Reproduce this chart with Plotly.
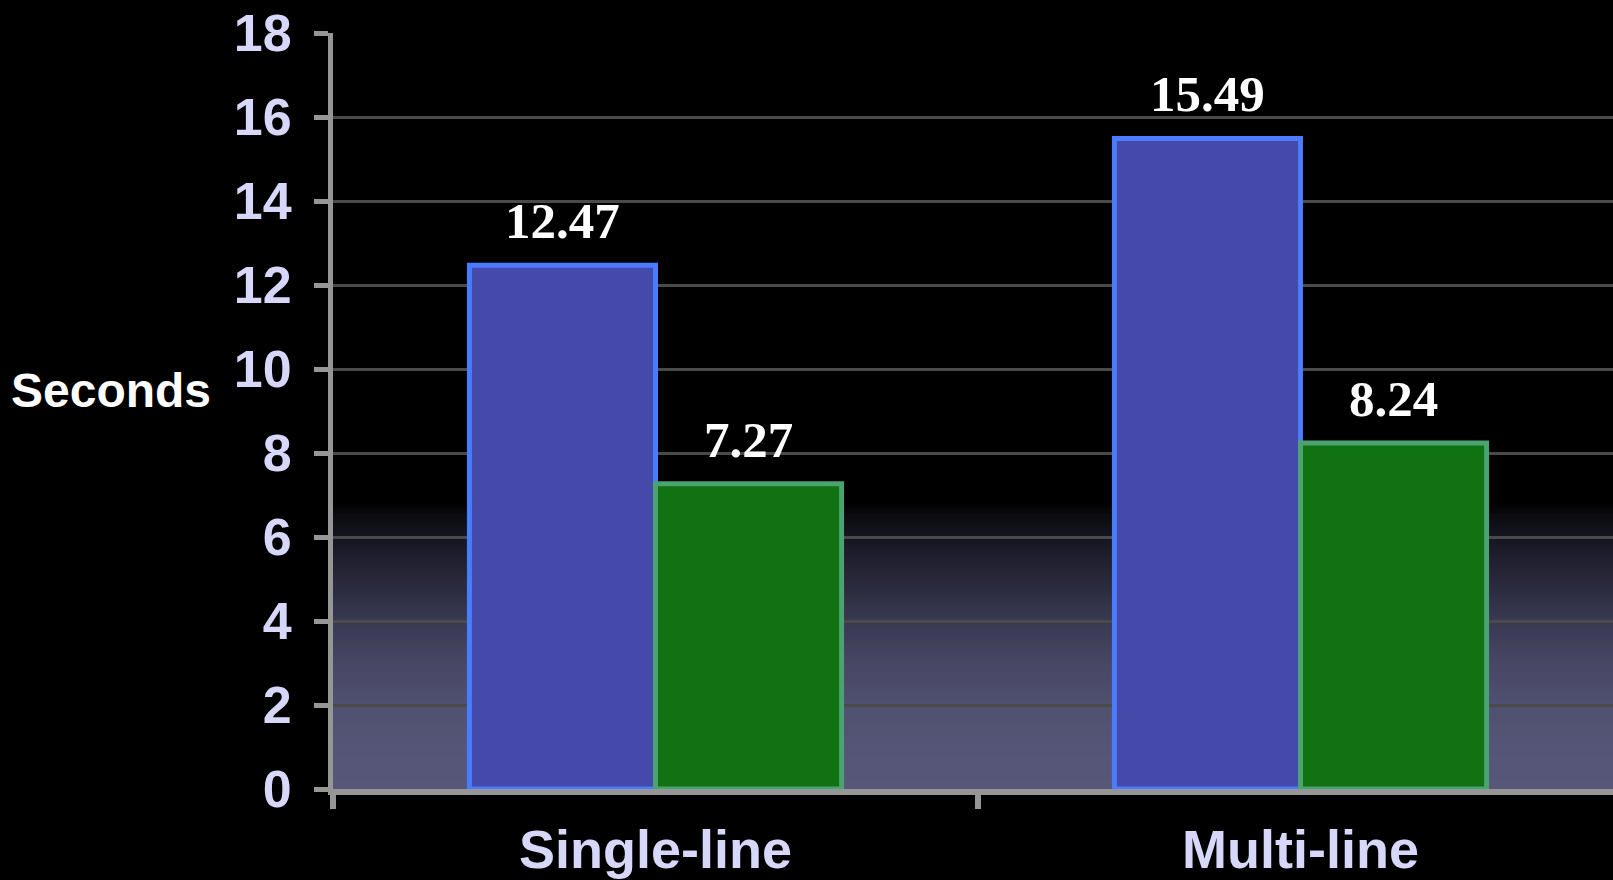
import plotly.graph_objects as go

categories = ["Single-line", "Multi-line"]
series_a = [12.47, 15.49]   # blue series
series_b = [7.27, 8.24]     # green series
y_ticks = [0, 2, 4, 6, 8, 10, 12, 14, 16, 18]

SANS = "Arial, 'Liberation Sans', Helvetica, sans-serif"
SERIF = "'Times New Roman', 'Liberation Serif', Times, serif"
LAV = "#D7D7FA"

fig = go.Figure()
fig.add_trace(go.Bar(
    x=categories, y=series_a, name="A",
    marker=dict(color="#4549AA", line=dict(color="#4A7CFF", width=5)),
))
fig.add_trace(go.Bar(
    x=categories, y=series_b, name="B",
    marker=dict(color="#107210", line=dict(color="#4AA370", width=5)),
))

# value labels above bars
bar_w = (1 - 0.423) / 2
for i, cat in enumerate(categories):
    for j, vals in enumerate([series_a, series_b]):
        off = (j - 0.5) * bar_w
        fig.add_annotation(
            x=i + off, y=vals[i], xref="x", yref="y",
            text=f"{vals[i]:.2f}", showarrow=False,
            yanchor="bottom", yshift=14,
            font=dict(family=SERIF, size=51, color="white", weight="bold"),
        )

# background gradient in the lower part of the plot (decoration)
stops = [(0.0, (87, 87, 122)), (1.0, (85, 85, 119)), (2.0, (80, 80, 112)),
         (3.0, (71, 71, 100)), (4.0, (57, 57, 83)), (5.0, (40, 40, 58)),
         (6.0, (22, 22, 34)), (6.5, (12, 12, 17)), (6.85, (0, 0, 0))]
steps = 90
top = 6.85
for k in range(steps - 1, -1, -1):
    y0 = top * k / steps
    y1 = top * (k + 1) / steps
    ym = (y0 + y1) / 2
    c = (0, 0, 0)
    for s in range(len(stops) - 1):
        a, ca = stops[s]
        b, cb = stops[s + 1]
        if a <= ym <= b:
            t = (ym - a) / (b - a)
            c = tuple(int(round(ca[q] + (cb[q] - ca[q]) * t)) for q in range(3))
            break
    fig.add_shape(type="rect", xref="paper", yref="y", x0=0, x1=1,
                  y0=max(0, y0 - 0.06), y1=y1,
                  fillcolor=f"rgb{c}", line=dict(width=0), layer="below")

fig.add_annotation(
    text="Seconds", xref="paper", yref="paper", x=-0.1734, y=0.527,
    xanchor="center", yanchor="middle", showarrow=False,
    font=dict(family=SANS, size=48, color="white", weight="bold"),
)

fig.update_layout(
    width=1613, height=880,
    margin=dict(l=333, r=0, t=33, b=91),
    paper_bgcolor="black", plot_bgcolor="black",
    barmode="group", bargap=0.423, bargroupgap=0,
    showlegend=False,
    xaxis=dict(
        type="category", range=[-0.5, 1.4845],
        showgrid=False, zeroline=False,
        showline=True, linecolor="#969696", linewidth=6,
        ticks="outside", tickson="boundaries", ticklen=14, tickwidth=6, tickcolor="#969696",
        tickfont=dict(family=SANS, size=54, color=LAV, weight="bold"),
        ticklabelstandoff=8,
    ),
    yaxis=dict(
        range=[0, 18], tickvals=y_ticks,
        showgrid=True, gridcolor="#4a4a4a", gridwidth=3,
        zeroline=False,
        showline=True, linecolor="#969696", linewidth=5,
        ticks="outside", ticklen=14, tickwidth=5, tickcolor="#969696",
        tickfont=dict(family=SANS, size=52, color=LAV, weight="bold"),
        ticklabelstandoff=12,
    ),
)

fig.write_html("out.html")
